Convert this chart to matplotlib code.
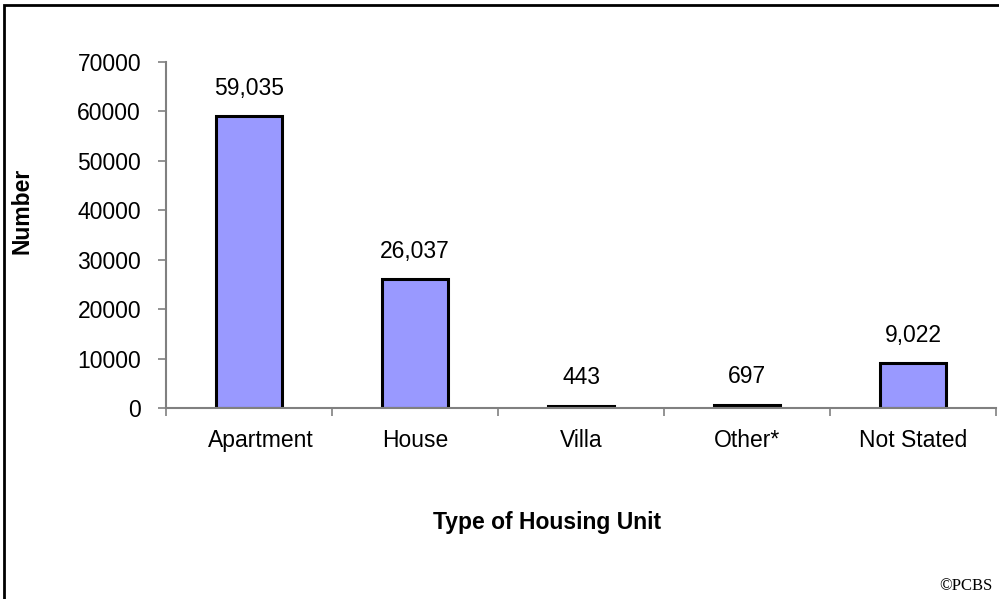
import matplotlib.pyplot as plt
from matplotlib.patches import Rectangle

plt.rcParams['font.family'] = ['Liberation Sans', 'DejaVu Sans']

# Housing units by type
categories = ["Apartment", "House", "Villa", "Other*", "Not Stated"]
units = [59035, 26037, 443, 697, 9022]
yticks = [0, 10000, 20000, 30000, 40000, 50000, 60000, 70000]

# horizontal nudge (pixels) for each category label
label_shift = [12, 0, 0, 0, 0]

fig = plt.figure(figsize=(9.99, 5.99), dpi=100)
ax = fig.add_axes([0.1662, 0.3189, 0.997 - 0.1662, 0.8965 - 0.3189])

x = range(len(categories))
ax.bar(x, units, width=0.4, color="#9999ff", edgecolor="black", linewidth=2.2)

# value labels above each bar
for xi, v in zip(x, units):
    ax.annotate(f"{v:,}", (xi, v), xytext=(0, 12), textcoords="offset points",
                ha="center", va="bottom", fontsize=16.5)

# category labels under the axis
for xi, name, dx in zip(x, categories, label_shift):
    ax.annotate(name, (xi, 0), xytext=(dx * 0.72, -15), textcoords="offset points",
                ha="center", va="top", fontsize=16.5, annotation_clip=False)

ax.set_xlim(-0.5, len(categories) - 0.5)
ax.set_ylim(0, 70000)
ax.set_yticks(yticks)
ax.set_yticklabels([str(t) for t in yticks], fontsize=16.5)
ax.set_xticks([i - 0.5 for i in range(len(categories) + 1)])
ax.set_xticklabels([])

ax.tick_params(axis="x", length=6, color="#808080", width=1.2, direction="out")
ax.tick_params(axis="y", length=6, color="#808080", width=1.2, pad=12)

for side in ["top", "right"]:
    ax.spines[side].set_visible(False)
ax.spines["left"].set_color("#808080")
ax.spines["left"].set_linewidth(1.5)
ax.spines["bottom"].set_color("#808080")
ax.spines["bottom"].set_linewidth(1.5)

fig.text(22 / 999, 1 - 211 / 599, "Number", rotation=90, ha="center", va="center",
         fontsize=16.5, fontweight="bold")
fig.text(547 / 999, 1 - 522 / 599, "Type of Housing Unit", ha="center", va="center",
         fontsize=16.5, fontweight="bold")
fig.text(992 / 999, 1 - 586 / 599, "\u00a9PCBS", ha="right", va="center",
         fontsize=12, family=["Liberation Serif", "DejaVu Serif"])

# frame around the whole chart area
fig.patches.append(Rectangle((4 / 999, -0.05), 1.0, 1 - 5 / 599 + 0.05,
                             transform=fig.transFigure, fill=False,
                             edgecolor="black", linewidth=2, clip_on=False))

fig.savefig("out.png", dpi=100)
